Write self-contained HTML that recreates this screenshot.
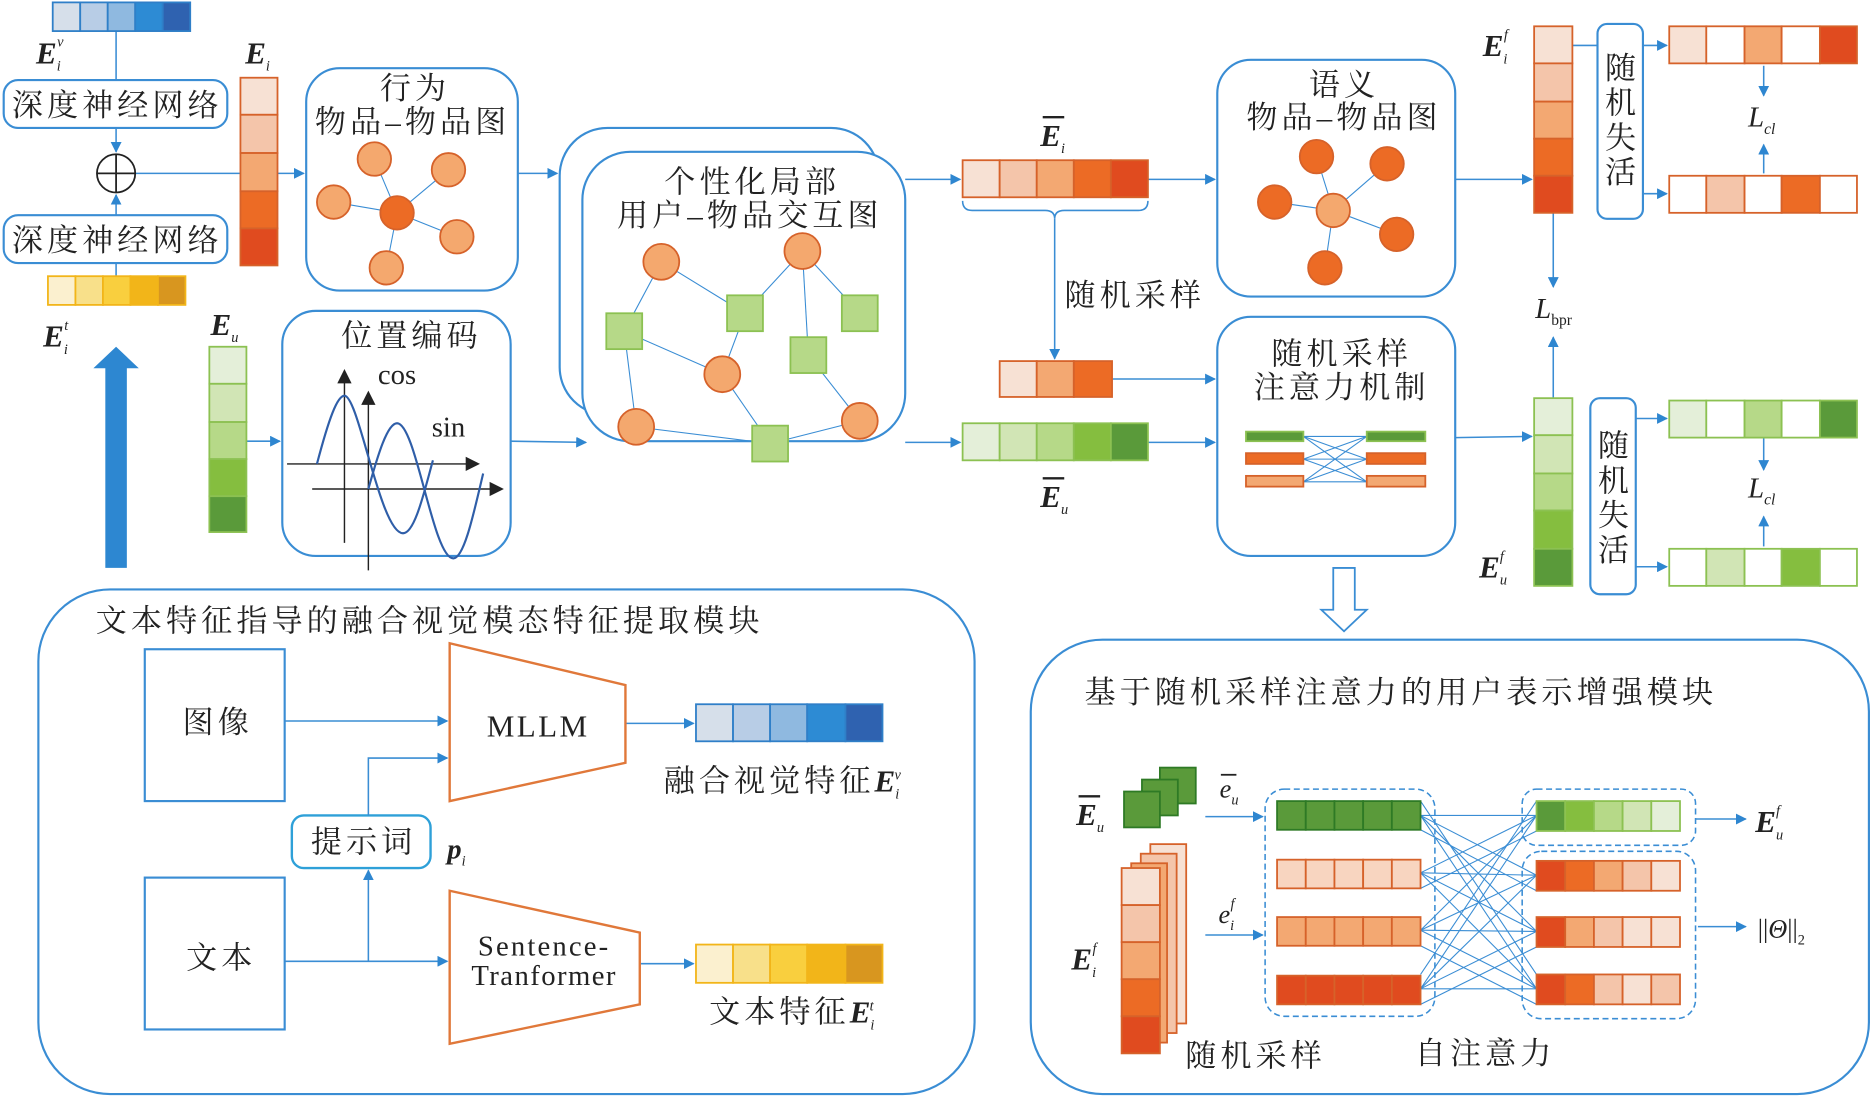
<!DOCTYPE html>
<html><head><meta charset="utf-8"><style>html,body{margin:0;padding:0;background:#fff}svg{display:block}</style></head>
<body>
<svg width="1875" height="1100" viewBox="0 0 1568 920" xmlns="http://www.w3.org/2000/svg" font-family="Liberation Serif, 'Noto Serif CJK SC', 'Noto Sans CJK SC', serif">
<defs>
<marker id="a" viewBox="0 0 10 10" refX="9" refY="5" markerWidth="7" markerHeight="7" orient="auto"><path d="M0,0L10,5L0,10z" fill="#2e86d0"/></marker>
</defs>
<g fill="none" stroke="#3a8dd4" stroke-width="1.3">
<line x1="97" y1="26" x2="97" y2="67"/>
<line x1="97" y1="107" x2="97" y2="127" marker-end="url(#a)"/>
<line x1="97" y1="180" x2="97" y2="163" marker-end="url(#a)"/>
<line x1="97" y1="220" x2="97" y2="231"/>
<line x1="113" y1="145" x2="254" y2="145" marker-end="url(#a)"/>
<rect x="3" y="67" width="187" height="40" rx="12" stroke-width="1.8"/>
<rect x="3" y="180" width="187" height="40" rx="12" stroke-width="1.8"/>
<rect x="256" y="57" width="177" height="186" rx="28" stroke-width="1.8"/>
<line x1="433" y1="145" x2="466" y2="145" marker-end="url(#a)"/>
<line x1="206" y1="369" x2="234" y2="369" marker-end="url(#a)"/>
<rect x="236" y="260" width="191" height="205" rx="28" stroke-width="1.8"/>
<line x1="427" y1="369" x2="490" y2="370" marker-end="url(#a)"/>
<rect x="468" y="107" width="267" height="240" rx="40" stroke-width="1.8"/>
<rect x="487" y="127" width="270" height="242" rx="40" stroke-width="1.8" fill="#fff"/>
<line x1="757" y1="150" x2="803" y2="150" marker-end="url(#a)"/>
<line x1="757" y1="370" x2="803" y2="370" marker-end="url(#a)"/>
<path d="M805,168 q0,8 8,8 h61 q8,0 8,7 q0,-7 8,-7 h62 q8,0 8,-8" />
<line x1="882" y1="183" x2="882" y2="300" marker-end="url(#a)"/>
<line x1="960" y1="150" x2="1016" y2="150" marker-end="url(#a)"/>
<line x1="930" y1="317" x2="1016" y2="317" marker-end="url(#a)"/>
<line x1="960" y1="370" x2="1016" y2="370" marker-end="url(#a)"/>
<rect x="1018" y="50" width="199" height="198" rx="28" stroke-width="1.8"/>
<rect x="1018" y="265" width="199" height="200" rx="28" stroke-width="1.8"/>
<path d="M1115,475h18v35h10l-19,18l-19,-18h10z" stroke-width="1.5"/>
<line x1="1217" y1="150" x2="1281" y2="150" marker-end="url(#a)"/>
<line x1="1217" y1="366" x2="1281" y2="365" marker-end="url(#a)"/>
<rect x="1336" y="20" width="38" height="163" rx="8" stroke-width="1.8"/>
<rect x="1330" y="333" width="38" height="164" rx="8" stroke-width="1.8"/>
<line x1="1315" y1="38" x2="1336" y2="38"/>
<line x1="1374" y1="38" x2="1394" y2="38" marker-end="url(#a)"/>
<line x1="1374" y1="162" x2="1394" y2="162" marker-end="url(#a)"/>
<line x1="1368" y1="350" x2="1394" y2="350" marker-end="url(#a)"/>
<line x1="1368" y1="474" x2="1394" y2="474" marker-end="url(#a)"/>
<line x1="1475" y1="55" x2="1475" y2="80" marker-end="url(#a)"/>
<line x1="1475" y1="145" x2="1475" y2="121" marker-end="url(#a)"/>
<line x1="1475" y1="366" x2="1475" y2="393" marker-end="url(#a)"/>
<line x1="1475" y1="457" x2="1475" y2="432" marker-end="url(#a)"/>
<line x1="1299" y1="178" x2="1299" y2="240" marker-end="url(#a)"/>
<line x1="1299" y1="333" x2="1299" y2="282" marker-end="url(#a)"/>
<rect x="32" y="493" width="783" height="422" rx="60" stroke-width="1.8"/>
<rect x="121" y="543" width="117" height="127" stroke-width="1.8"/>
<rect x="121" y="734" width="117" height="127" stroke-width="1.8"/>
<rect x="244" y="682" width="116" height="44" rx="10" stroke-width="2" stroke="#2ea0d8"/>
<line x1="238" y1="603" x2="374" y2="603" marker-end="url(#a)"/>
<polyline points="308,682 308,634 374,634" marker-end="url(#a)"/>
<line x1="238" y1="804" x2="374" y2="804" marker-end="url(#a)"/>
<line x1="308" y1="804" x2="308" y2="728" marker-end="url(#a)"/>
<line x1="523" y1="605" x2="580" y2="605" marker-end="url(#a)"/>
<line x1="535" y1="806" x2="580" y2="806" marker-end="url(#a)"/>
<rect x="862" y="535" width="701" height="380" rx="60" stroke-width="1.8"/>
<line x1="1008" y1="683" x2="1056" y2="683" marker-end="url(#a)"/>
<line x1="1008" y1="782" x2="1056" y2="782" marker-end="url(#a)"/>
<rect x="1058" y="660" width="142" height="190" rx="16" stroke-dasharray="5,3"/>
<rect x="1273" y="660" width="145" height="47" rx="12" stroke-dasharray="5,3"/>
<rect x="1273" y="712" width="145" height="140" rx="16" stroke-dasharray="5,3"/>
<line x1="1418" y1="685" x2="1460" y2="685" marker-end="url(#a)"/>
<line x1="1420" y1="775" x2="1460" y2="775" marker-end="url(#a)"/>
</g>
<g stroke="#3a8dd4" stroke-width="0.9">
<line x1="1188" y1="682" x2="1285" y2="682"/><line x1="1188" y1="682" x2="1285" y2="732"/><line x1="1188" y1="682" x2="1285" y2="779"/><line x1="1188" y1="682" x2="1285" y2="827"/>
<line x1="1188" y1="730" x2="1285" y2="682"/><line x1="1188" y1="730" x2="1285" y2="732"/><line x1="1188" y1="730" x2="1285" y2="779"/><line x1="1188" y1="730" x2="1285" y2="827"/>
<line x1="1188" y1="778" x2="1285" y2="682"/><line x1="1188" y1="778" x2="1285" y2="732"/><line x1="1188" y1="778" x2="1285" y2="779"/><line x1="1188" y1="778" x2="1285" y2="827"/>
<line x1="1188" y1="827" x2="1285" y2="682"/><line x1="1188" y1="827" x2="1285" y2="732"/><line x1="1188" y1="827" x2="1285" y2="779"/><line x1="1188" y1="827" x2="1285" y2="827"/>
<line x1="1188" y1="694" x2="1285" y2="745"/><line x1="1188" y1="743" x2="1285" y2="695"/><line x1="1188" y1="791" x2="1285" y2="840"/><line x1="1188" y1="840" x2="1285" y2="792"/>
<line x1="1188" y1="670" x2="1285" y2="815"/><line x1="1188" y1="815" x2="1285" y2="670"/>
<line x1="1090" y1="365" x2="1143" y2="365"/><line x1="1090" y1="365" x2="1143" y2="384"/><line x1="1090" y1="365" x2="1143" y2="403"/>
<line x1="1090" y1="384" x2="1143" y2="365"/><line x1="1090" y1="384" x2="1143" y2="384"/><line x1="1090" y1="384" x2="1143" y2="403"/>
<line x1="1090" y1="403" x2="1143" y2="365"/><line x1="1090" y1="403" x2="1143" y2="384"/><line x1="1090" y1="403" x2="1143" y2="403"/>
<line x1="332" y1="178" x2="313" y2="133"/><line x1="332" y1="178" x2="375" y2="142"/><line x1="332" y1="178" x2="279" y2="169"/><line x1="332" y1="178" x2="382" y2="198"/><line x1="332" y1="178" x2="323" y2="224"/>
<line x1="1115" y1="176" x2="1101" y2="131"/><line x1="1115" y1="176" x2="1160" y2="137"/><line x1="1115" y1="176" x2="1066" y2="169"/><line x1="1115" y1="176" x2="1168" y2="196"/><line x1="1115" y1="176" x2="1108" y2="224"/>
<line x1="553" y1="219" x2="522" y2="277"/><line x1="553" y1="219" x2="623" y2="262"/><line x1="671" y1="210" x2="623" y2="262"/><line x1="671" y1="210" x2="676" y2="297"/><line x1="671" y1="210" x2="719" y2="262"/>
<line x1="522" y1="277" x2="604" y2="313"/><line x1="522" y1="277" x2="532" y2="357"/><line x1="604" y1="313" x2="623" y2="262"/><line x1="604" y1="313" x2="644" y2="371"/><line x1="532" y1="357" x2="644" y2="371"/><line x1="644" y1="371" x2="719" y2="352"/><line x1="719" y1="352" x2="676" y2="297"/>
</g>
<g stroke="#d6622a" stroke-width="1.5">
<circle cx="313" cy="133" r="14" fill="#f4a86e"/><circle cx="375" cy="142" r="14" fill="#f4a86e"/><circle cx="279" cy="169" r="14" fill="#f4a86e"/><circle cx="382" cy="198" r="14" fill="#f4a86e"/><circle cx="323" cy="224" r="14" fill="#f4a86e"/><circle cx="332" cy="178" r="14" fill="#ec6b25"/>
<circle cx="1101" cy="131" r="14" fill="#ec6b25"/><circle cx="1160" cy="137" r="14" fill="#ec6b25"/><circle cx="1066" cy="169" r="14" fill="#ec6b25"/><circle cx="1168" cy="196" r="14" fill="#ec6b25"/><circle cx="1108" cy="224" r="14" fill="#ec6b25"/><circle cx="1115" cy="176" r="14" fill="#f4a86e"/>
<circle cx="553" cy="219" r="15" fill="#f4a86e"/><circle cx="671" cy="210" r="15" fill="#f4a86e"/><circle cx="604" cy="313" r="15" fill="#f4a86e"/><circle cx="532" cy="357" r="15" fill="#f4a86e"/><circle cx="719" cy="352" r="15" fill="#f4a86e"/>
</g>
<g fill="#b6d988" stroke="#8cc152" stroke-width="1.5">
<rect x="507" y="262" width="30" height="30"/><rect x="608" y="247" width="30" height="30"/><rect x="704" y="247" width="30" height="30"/><rect x="661" y="282" width="30" height="30"/><rect x="629" y="356" width="30" height="30"/>
</g>
<g stroke="#222" stroke-width="1.5" fill="none"><circle cx="97" cy="145" r="16"/><line x1="81" y1="145" x2="113" y2="145"/><line x1="97" y1="129" x2="97" y2="161"/></g>
<path d="M88,475V308H78L97,290L116,308H106V475z" fill="#2d87d1"/>
<g stroke="#222" stroke-width="1.2" fill="none">
<line x1="288" y1="454" x2="288" y2="318"/><path d="M283,320L288,310L293,320z" fill="#222"/>
<line x1="308" y1="477" x2="308" y2="336"/><path d="M303,338L308,328L313,338z" fill="#222"/>
<line x1="240" y1="388" x2="392" y2="388"/><path d="M390,383L400,388L390,393z" fill="#222"/>
<line x1="261" y1="409" x2="412" y2="409"/><path d="M410,404L420,409L410,414z" fill="#222"/>
</g>
<g stroke="#2f5ea8" stroke-width="1.8" fill="none">
<path d="M265,388 C275,350 282,331 288,331 C300,331 318,446 337,446 C347,446 355,410 362,385"/>
<path d="M308,409 C316,380 324,354 332,354 C348,354 362,467 379,467 C388,467 396,430 404,396"/>
</g>
<g stroke-width="1.5">
<g stroke="#2f7fc8"><rect x="44" y="2" width="23" height="24" fill="#d6dfea"/><rect x="67" y="2" width="23" height="24" fill="#b8cde6"/><rect x="90" y="2" width="23" height="24" fill="#8fb9e0"/><rect x="113" y="2" width="23" height="24" fill="#2d8bd4"/><rect x="136" y="2" width="23" height="24" fill="#2f62b0"/></g>
<g stroke="#f2b519"><rect x="40" y="231" width="23" height="24" fill="#fbf0cf"/><rect x="63" y="231" width="23" height="24" fill="#f8e08a"/><rect x="86" y="231" width="23" height="24" fill="#f9cf3e"/><rect x="109" y="231" width="23" height="24" fill="#f2b519"/><rect x="132" y="231" width="23" height="24" fill="#d8961f"/></g>
<g stroke="#d6622a"><rect x="201" y="65" width="31" height="31" fill="#f7e1d4"/><rect x="201" y="96" width="31" height="32" fill="#f4c5aa"/><rect x="201" y="128" width="31" height="32" fill="#f3a872"/><rect x="201" y="160" width="31" height="31" fill="#ec6b25"/><rect x="201" y="191" width="31" height="31" fill="#e04b1f"/></g>
<g stroke="#8cc152"><rect x="175" y="290" width="31" height="31" fill="#e4efd9"/><rect x="175" y="321" width="31" height="32" fill="#d1e5b5"/><rect x="175" y="353" width="31" height="31" fill="#b6d988"/><rect x="175" y="384" width="31" height="31" fill="#85be3f"/><rect x="175" y="415" width="31" height="30" fill="#5a9a3a"/></g>
<g stroke="#d6622a"><rect x="805" y="134" width="31" height="31" fill="#f7e1d4"/><rect x="836" y="134" width="31" height="31" fill="#f4c5aa"/><rect x="867" y="134" width="31" height="31" fill="#f3a872"/><rect x="898" y="134" width="31" height="31" fill="#ec6b25"/><rect x="929" y="134" width="31" height="31" fill="#e04b1f"/></g>
<g stroke="#d6622a"><rect x="836" y="302" width="31" height="30" fill="#f7e1d4"/><rect x="867" y="302" width="31" height="30" fill="#f3a872"/><rect x="898" y="302" width="32" height="30" fill="#ec6b25"/></g>
<g stroke="#8cc152"><rect x="805" y="354" width="31" height="31" fill="#e4efd9"/><rect x="836" y="354" width="31" height="31" fill="#d1e5b5"/><rect x="867" y="354" width="31" height="31" fill="#b6d988"/><rect x="898" y="354" width="31" height="31" fill="#85be3f"/><rect x="929" y="354" width="31" height="31" fill="#5a9a3a"/></g>
<g stroke="#d6622a"><rect x="1042" y="361" width="48" height="8" fill="#5a9a3a" stroke="#8cc152"/><rect x="1042" y="379" width="48" height="9" fill="#ec6b25"/><rect x="1042" y="398" width="48" height="9" fill="#f3a872"/>
<rect x="1143" y="361" width="49" height="8" fill="#5a9a3a" stroke="#8cc152"/><rect x="1143" y="379" width="49" height="9" fill="#ec6b25"/><rect x="1143" y="398" width="49" height="9" fill="#f3a872"/></g>
<g stroke="#d6622a"><rect x="1283" y="22" width="32" height="31" fill="#f7e1d4"/><rect x="1283" y="53" width="32" height="32" fill="#f4c5aa"/><rect x="1283" y="85" width="32" height="31" fill="#f3a872"/><rect x="1283" y="116" width="32" height="31" fill="#ec6b25"/><rect x="1283" y="147" width="32" height="31" fill="#e04b1f"/></g>
<g stroke="#d6622a"><rect x="1396" y="22" width="31" height="31" fill="#f7e1d4"/><rect x="1427" y="22" width="32" height="31" fill="#fff"/><rect x="1459" y="22" width="31" height="31" fill="#f3a872"/><rect x="1490" y="22" width="32" height="31" fill="#fff"/><rect x="1522" y="22" width="31" height="31" fill="#e04b1f"/></g>
<g stroke="#d6622a"><rect x="1396" y="147" width="31" height="31" fill="#fff"/><rect x="1427" y="147" width="32" height="31" fill="#f4c5aa"/><rect x="1459" y="147" width="31" height="31" fill="#fff"/><rect x="1490" y="147" width="32" height="31" fill="#ec6b25"/><rect x="1522" y="147" width="31" height="31" fill="#fff"/></g>
<g stroke="#8cc152"><rect x="1283" y="333" width="32" height="31" fill="#e4efd9"/><rect x="1283" y="364" width="32" height="32" fill="#d1e5b5"/><rect x="1283" y="396" width="32" height="31" fill="#b6d988"/><rect x="1283" y="427" width="32" height="32" fill="#85be3f"/><rect x="1283" y="459" width="32" height="31" fill="#5a9a3a"/></g>
<g stroke="#8cc152"><rect x="1396" y="335" width="31" height="31" fill="#e4efd9"/><rect x="1427" y="335" width="32" height="31" fill="#fff"/><rect x="1459" y="335" width="31" height="31" fill="#b6d988"/><rect x="1490" y="335" width="32" height="31" fill="#fff"/><rect x="1522" y="335" width="31" height="31" fill="#5a9a3a"/></g>
<g stroke="#8cc152"><rect x="1396" y="459" width="31" height="31" fill="#fff"/><rect x="1427" y="459" width="32" height="31" fill="#d1e5b5"/><rect x="1459" y="459" width="31" height="31" fill="#fff"/><rect x="1490" y="459" width="32" height="31" fill="#85be3f"/><rect x="1522" y="459" width="31" height="31" fill="#fff"/></g>
<g stroke="#2f7fc8"><rect x="582" y="589" width="31" height="31" fill="#d6dfea"/><rect x="613" y="589" width="31" height="31" fill="#b8cde6"/><rect x="644" y="589" width="31" height="31" fill="#8fb9e0"/><rect x="675" y="589" width="32" height="31" fill="#2d8bd4"/><rect x="707" y="589" width="31" height="31" fill="#2f62b0"/></g>
<g stroke="#f2b519"><rect x="582" y="790" width="31" height="32" fill="#fbf0cf"/><rect x="613" y="790" width="31" height="32" fill="#f8e08a"/><rect x="644" y="790" width="31" height="32" fill="#f9cf3e"/><rect x="675" y="790" width="32" height="32" fill="#f2b519"/><rect x="707" y="790" width="31" height="32" fill="#d8961f"/></g>
<polygon points="376,538 523,573 523,638 376,670" fill="#fff" stroke="#e0783a" stroke-width="2"/>
<polygon points="376,745 535,780 535,840 376,873" fill="#fff" stroke="#e0783a" stroke-width="2"/>
<g stroke="#2e7a25" fill="#5a9a3a"><rect x="970" y="642" width="30" height="30"/><rect x="955" y="652" width="30" height="30"/><rect x="940" y="662" width="30" height="30"/></g>
<g stroke="#d6622a">
<rect x="962" y="706" width="30" height="150" fill="#f7e1d4"/><rect x="954" y="714" width="30" height="150" fill="#f4c5aa"/><rect x="946" y="722" width="30" height="150" fill="#f3a872"/>
<rect x="938" y="726" width="32" height="31" fill="#f7e1d4"/><rect x="938" y="757" width="32" height="31" fill="#f4c5aa"/><rect x="938" y="788" width="32" height="31" fill="#f3a872"/><rect x="938" y="819" width="32" height="31" fill="#ec6b25"/><rect x="938" y="850" width="32" height="31" fill="#e04b1f"/>
</g>
<g stroke="#2e7a25"><rect x="1068" y="670" width="24" height="24" fill="#5a9a3a"/><rect x="1092" y="670" width="24" height="24" fill="#5a9a3a"/><rect x="1116" y="670" width="24" height="24" fill="#5a9a3a"/><rect x="1140" y="670" width="24" height="24" fill="#5a9a3a"/><rect x="1164" y="670" width="24" height="24" fill="#5a9a3a"/></g>
<g stroke="#d6622a">
<rect x="1068" y="719" width="24" height="24" fill="#f8d5c0"/><rect x="1092" y="719" width="24" height="24" fill="#f8d5c0"/><rect x="1116" y="719" width="24" height="24" fill="#f8d5c0"/><rect x="1140" y="719" width="24" height="24" fill="#f8d5c0"/><rect x="1164" y="719" width="24" height="24" fill="#f8d5c0"/>
<rect x="1068" y="767" width="24" height="24" fill="#f3a872"/><rect x="1092" y="767" width="24" height="24" fill="#f3a872"/><rect x="1116" y="767" width="24" height="24" fill="#f3a872"/><rect x="1140" y="767" width="24" height="24" fill="#f3a872"/><rect x="1164" y="767" width="24" height="24" fill="#f3a872"/>
<rect x="1068" y="816" width="24" height="24" fill="#e04b1f"/><rect x="1092" y="816" width="24" height="24" fill="#e04b1f"/><rect x="1116" y="816" width="24" height="24" fill="#e04b1f"/><rect x="1140" y="816" width="24" height="24" fill="#e04b1f"/><rect x="1164" y="816" width="24" height="24" fill="#e04b1f"/>
</g>
<g stroke="#8cc152"><rect x="1285" y="670" width="24" height="25" fill="#5a9a3a"/><rect x="1309" y="670" width="24" height="25" fill="#85be3f"/><rect x="1333" y="670" width="24" height="25" fill="#b6d988"/><rect x="1357" y="670" width="24" height="25" fill="#d1e5b5"/><rect x="1381" y="670" width="24" height="25" fill="#e4efd9"/></g>
<g stroke="#d6622a">
<rect x="1285" y="720" width="24" height="25" fill="#e04b1f"/><rect x="1309" y="720" width="24" height="25" fill="#ec6b25"/><rect x="1333" y="720" width="24" height="25" fill="#f3a872"/><rect x="1357" y="720" width="24" height="25" fill="#f4c5aa"/><rect x="1381" y="720" width="24" height="25" fill="#f7e1d4"/>
<rect x="1285" y="767" width="24" height="25" fill="#e04b1f"/><rect x="1309" y="767" width="24" height="25" fill="#f3a872"/><rect x="1333" y="767" width="24" height="25" fill="#f4c5aa"/><rect x="1357" y="767" width="24" height="25" fill="#f7e1d4"/><rect x="1381" y="767" width="24" height="25" fill="#f7e1d4"/>
<rect x="1285" y="815" width="24" height="25" fill="#e04b1f"/><rect x="1309" y="815" width="24" height="25" fill="#ec6b25"/><rect x="1333" y="815" width="24" height="25" fill="#f4c5aa"/><rect x="1357" y="815" width="24" height="25" fill="#f7e1d4"/><rect x="1381" y="815" width="24" height="25" fill="#f4c5aa"/>
</g>
</g>
<g font-family="'Liberation Serif','Noto Serif CJK SC',serif" font-size="26" fill="#222" text-anchor="middle" letter-spacing="3.4">
<text x="98" y="97">深度神经网络</text>
<text x="98" y="210">深度神经网络</text>
<text x="347" y="83">行为</text>
<text x="345" y="111">物品–物品图</text>
<text x="344" y="290">位置编码</text>
<text x="629" y="161">个性化局部</text>
<text x="627" y="189">用户–物品交互图</text>
<text x="949" y="256">随机采样</text>
<text x="1124" y="80">语义</text>
<text x="1124" y="107">物品–物品图</text>
<text x="1122" y="305">随机采样</text>
<text x="1122" y="333">注意力机制</text>
<text x="1357" y="66">随</text><text x="1357" y="95">机</text><text x="1357" y="124">失</text><text x="1357" y="153">活</text>
<text x="1351" y="382">随</text><text x="1351" y="411">机</text><text x="1351" y="440">失</text><text x="1351" y="469">活</text>
<text x="182" y="613">图像</text>
<text x="185" y="810">文本</text>
<text x="304" y="713">提示词</text>
<text x="1050" y="892">随机采样</text>
<text x="1242" y="890">自注意力</text>
</g>
<g font-family="'Liberation Serif','Noto Serif CJK SC',serif" font-size="26" fill="#222">
<text x="80" y="528" letter-spacing="3.4">文本特征指导的融合视觉模态特征提取模块</text>
<text x="907" y="588" letter-spacing="3.4">基于随机采样注意力的用户表示增强模块</text>
<text x="555" y="662"><tspan letter-spacing="3.4">融合视觉特征</tspan><tspan font-weight="bold" font-style="italic">E</tspan><tspan font-size="12" font-style="italic" dy="6">i</tspan><tspan font-size="12" font-style="italic" dx="-4" dy="-16">v</tspan></text>
<text x="593" y="855"><tspan letter-spacing="3.4">文本特征</tspan><tspan font-weight="bold" font-style="italic">E</tspan><tspan font-size="12" font-style="italic" dy="6">i</tspan><tspan font-size="12" font-style="italic" dx="-4" dy="-16">t</tspan></text>
<text x="316" y="321" font-size="24">cos</text>
<text x="361" y="365" font-size="24">sin</text>
<text x="407" y="616" font-size="26" letter-spacing="2">MLLM</text>
<text x="455" y="799" font-size="24" text-anchor="middle" letter-spacing="1.8">Sentence-</text>
<text x="455" y="824" font-size="24" text-anchor="middle" letter-spacing="1.2">Tranformer</text>
</g>
<g font-family="'Liberation Serif',serif" font-style="italic" fill="#222">
<text x="30" y="53" font-size="26" font-weight="bold">E<tspan font-size="12" font-weight="normal" dy="6">i</tspan><tspan font-size="12" font-weight="normal" dx="-3" dy="-20">v</tspan></text>
<text x="205" y="53" font-size="26" font-weight="bold">E<tspan font-size="12" font-weight="normal" dy="6">i</tspan></text>
<text x="36" y="290" font-size="26" font-weight="bold">E<tspan font-size="12" font-weight="normal" dy="6">i</tspan><tspan font-size="12" font-weight="normal" dx="-3" dy="-20">t</tspan></text>
<text x="176" y="280" font-size="26" font-weight="bold">E<tspan font-size="12" font-weight="normal" dy="6">u</tspan></text>
<text x="870" y="122" font-size="26" font-weight="bold">E<tspan font-size="12" font-weight="normal" dy="6">i</tspan></text>
<line x1="872" y1="98" x2="890" y2="98" stroke="#222" stroke-width="2"/>
<text x="870" y="424" font-size="26" font-weight="bold">E<tspan font-size="12" font-weight="normal" dy="6">u</tspan></text>
<line x1="872" y1="400" x2="890" y2="400" stroke="#222" stroke-width="2"/>
<text x="1240" y="47" font-size="26" font-weight="bold">E<tspan font-size="12" font-weight="normal" dy="6">i</tspan><tspan font-size="12" font-weight="normal" dx="-3" dy="-20">f</tspan></text>
<text x="1237" y="483" font-size="26" font-weight="bold">E<tspan font-size="12" font-weight="normal" dy="6">u</tspan><tspan font-size="12" font-weight="normal" dx="-6" dy="-20">f</tspan></text>
<text x="1462" y="106" font-size="24">L<tspan font-size="13" dy="6">cl</tspan></text>
<text x="1462" y="416" font-size="24">L<tspan font-size="13" dy="6">cl</tspan></text>
<text x="1284" y="266" font-size="24">L<tspan font-size="13" font-style="normal" dy="6">bpr</tspan></text>
<text x="374" y="718" font-size="24" font-weight="bold">p<tspan font-size="12" font-weight="normal" dy="6">i</tspan></text>
<text x="900" y="690" font-size="26" font-weight="bold">E<tspan font-size="12" font-weight="normal" dy="6">u</tspan></text>
<line x1="902" y1="666" x2="920" y2="666" stroke="#222" stroke-width="2"/>
<text x="1020" y="667" font-size="22">e<tspan font-size="12" dy="6">u</tspan></text>
<line x1="1021" y1="648" x2="1034" y2="648" stroke="#222" stroke-width="1.5"/>
<text x="1019" y="772" font-size="22">e<tspan font-size="12" dy="6">i</tspan><tspan font-size="12" dx="-3" dy="-18">f</tspan></text>
<text x="896" y="811" font-size="26" font-weight="bold">E<tspan font-size="12" font-weight="normal" dy="6">i</tspan><tspan font-size="12" font-weight="normal" dx="-3" dy="-20">f</tspan></text>
<text x="1468" y="696" font-size="26" font-weight="bold">E<tspan font-size="12" font-weight="normal" dy="6">u</tspan><tspan font-size="12" font-weight="normal" dx="-6" dy="-20">f</tspan></text>
<text x="1470" y="784" font-size="22" font-style="normal">||<tspan font-style="italic">Θ</tspan>||<tspan font-size="12" dy="6">2</tspan></text>
</g>
</svg>
</body></html>
